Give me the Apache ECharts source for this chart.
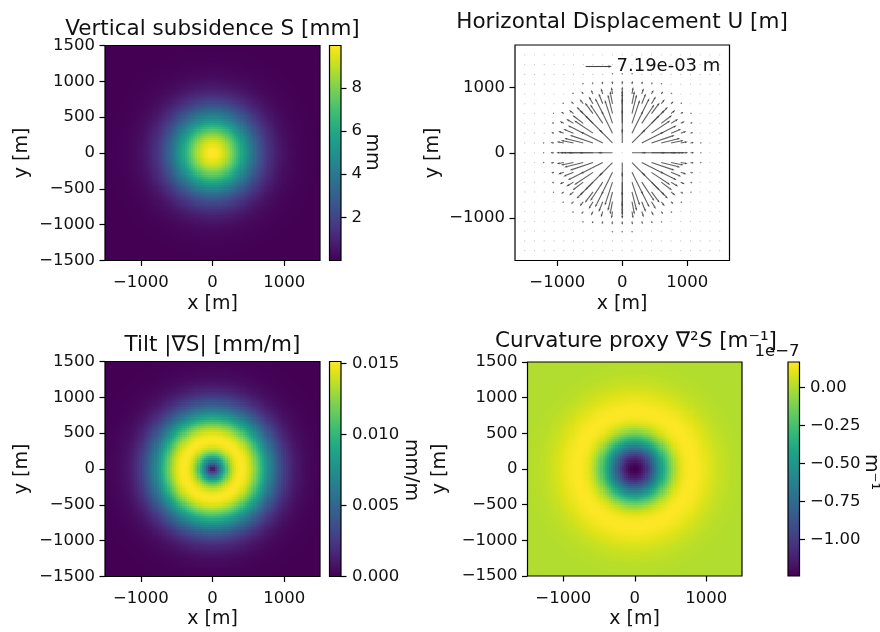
<!DOCTYPE html>
<html><head><meta charset="utf-8">
<script src="https://cdn.jsdelivr.net/npm/echarts@6/dist/echarts.min.js"></script>
<style>html,body{margin:0;padding:0;background:#fff}#c{width:880px;height:632px}</style>
</head><body><div id="c"></div>
<script>
// ---- radial profiles (r in metres) ----
const profileRadii = [0,50,100,150,200,250,300,350,400,450,500,550,600,650,700,750,800,850,900,950,1000,1050,1100,1150,1200,1250,1300,1350,1400,1450,1500,1600,1800,2000,2200];
const subsidenceMm = [10.00,9.922,9.692,9.321,8.825,8.226,7.548,6.819,6.065,5.311,4.578,3.886,3.247,2.671,2.163,1.724,1.353,1.046,0.796,0.596,0.439,0.319,0.228,0.160,0.111,0.076,0.051,0.034,0.022,0.014,0.009,0.003,0.0004,0,0];
const tiltMmPerM = [0,0.00310,0.00606,0.00874,0.01103,0.01285,0.01415,0.01492,0.01516,0.01494,0.01431,0.01336,0.01218,0.01085,0.00946,0.00808,0.00677,0.00556,0.00448,0.00354,0.00274,0.00209,0.00157,0.00115,0.00083,0.00059,0.00041,0.00029,0.00019,0.00013,0.00008,0.00003,0.000005,0,0];
const curvature1e7 = [-1.250,-1.231,-1.174,-1.083,-0.965,-0.827,-0.678,-0.526,-0.379,-0.244,-0.125,-0.027,0.051,0.107,0.144,0.163,0.169,0.164,0.152,0.136,0.117,0.097,0.079,0.063,0.049,0.037,0.027,0.020,0.014,0.010,0.007,0.003,0.0005,0.00005,0];
const displacementMm = [0,1.470,2.873,4.144,5.231,6.095,6.711,7.073,7.190,7.083,6.784,6.334,5.774,5.145,4.487,3.832,3.208,2.635,2.123,1.678,1.301,0.993,0.743,0.545,0.395,0.282,0.197,0.136,0.091,0.060,0.040,0.014,0.002,0,0];

// ---- grids / ticks ----
const imageExtent = [-1500, 1500];
const imageCells = 100;
const quiverStep = 150;
const quiverExtent = [-1650, 1650];
const xTicks = [-1000, 0, 1000];
const yTicksImage = [-1500, -1000, -500, 0, 500, 1000, 1500];
const yTicksQuiver = [-1000, 0, 1000];
const sTicks = [2, 4, 6, 8];
const tiltTicks = [0, 0.005, 0.010, 0.015];
const curvTicks = [-1.00, -0.75, -0.50, -0.25, 0.00];
const quiverKeyMm = 7.19;        // 7.19e-03 m
const quiverKeyAxisLen = 390;    // axis metres drawn for the key value

const viridis = ['#440154','#471365','#482475','#463480','#414487','#3b528b','#355f8d','#2f6c8e','#2a788e','#25848e','#21918c','#1e9c89','#22a884','#2fb47c','#44bf70','#5ec962','#7ad151','#9bd93c','#bddf26','#dfe318','#fde725'];
const FONT = "'DejaVu Sans', sans-serif";

function radial(profile, r) {
  for (let i = 1; i < profileRadii.length; i++) {
    if (r <= profileRadii[i]) {
      const t = (r - profileRadii[i-1]) / (profileRadii[i] - profileRadii[i-1]);
      return profile[i-1] + t * (profile[i] - profile[i-1]);
    }
  }
  return profile[profile.length - 1];
}
const cellSize = (imageExtent[1] - imageExtent[0]) / imageCells;
const cellCenters = [];
for (let i = 0; i < imageCells; i++) cellCenters.push(imageExtent[0] + cellSize * (i + 0.5));
function field(profile) {
  const out = [];
  for (const y of cellCenters) for (const x of cellCenters) out.push([x, y, radial(profile, Math.hypot(x, y))]);
  return out;
}
function range(d) { let lo = Infinity, hi = -Infinity; d.forEach(p => { lo = Math.min(lo, p[2]); hi = Math.max(hi, p[2]); }); return [lo, hi]; }
const sField = field(subsidenceMm), tField = field(tiltMmPerM), cField = field(curvature1e7);
const sR = range(sField), tR = range(tField), cR = range(cField);

const quiverData = [];
for (let y = imageExtent[0]; y <= imageExtent[1]; y += quiverStep)
  for (let x = imageExtent[0]; x <= imageExtent[1]; x += quiverStep) {
    const r = Math.hypot(x, y), u = radial(displacementMm, r);
    quiverData.push([x, y, r ? u * x / r : 0, r ? u * y / r : 0]);
  }

const minusFmt = (v, d) => { const s = Math.abs(v).toFixed(d); return (v < 0 && Number(s) !== 0 ? '\u2212' : '') + s; };

function axis(gridIndex, min, max, ticks, dec, pos, margin) {
  return { gridIndex, type: 'value', min, max, position: pos,
    axisLine: { show: false, onZero: false }, splitLine: { show: false },
    axisTick: { show: true, inside: false, length: 5.5, lineStyle: { color: '#000', width: 1.2 }, customValues: ticks },
    axisLabel: { show: true, customValues: ticks, formatter: v => minusFmt(v, dec), fontSize: 16.5, fontFamily: FONT, color: '#111', margin: margin } };
}
const hidden = (gridIndex) => ({ gridIndex, type: 'value', min: 0, max: 1, show: false, axisLine: { onZero: false } });
const gridBase = { show: true, borderColor: '#000', borderWidth: 1.2, backgroundColor: 'rgba(0,0,0,0)', z: 10, containLabel: false, outerBoundsMode: 'none' };
const G = (l, t, w, h) => Object.assign({ left: l, top: t, width: w, height: h }, gridBase);

function cellRender(params, api) {
  const x = api.value(0), y = api.value(1);
  const p0 = api.coord([x - cellSize / 2, y + cellSize / 2]);
  const p1 = api.coord([x + cellSize / 2, y - cellSize / 2]);
  const x0 = Math.round(p0[0]), y0 = Math.round(p0[1]), x1 = Math.round(p1[0]), y1 = Math.round(p1[1]);
  return { type: 'rect', silent: true, shape: { x: x0, y: y0, width: x1 - x0, height: y1 - y0 }, style: { fill: api.visual('color'), stroke: null } };
}
const gradient = { type: 'linear', x: 0, y: 1, x2: 0, y2: 0, colorStops: viridis.map((c, i) => ({ offset: i / (viridis.length - 1), color: c })) };
function barRender(params, api) {
  const p0 = api.coord([0, api.value(2)]), p1 = api.coord([1, api.value(1)]);
  return { type: 'rect', silent: true, shape: { x: p0[0], y: p0[1], width: p1[0] - p0[0], height: p1[1] - p0[1] }, style: { fill: gradient } };
}
function arrowRender(params, api) {
  const x = api.value(0), y = api.value(1), ux = api.value(2), uy = api.value(3);
  const k = quiverKeyAxisLen / quiverKeyMm;
  const t = api.coord([x, y]), h = api.coord([x + ux * k, y + uy * k]);
  const dx = h[0] - t[0], dy = h[1] - t[1], len = Math.hypot(dx, dy);
  if (len < 1.2) return { type: 'circle', silent: true, shape: { cx: t[0], cy: t[1], r: 0.6 }, style: { fill: 'rgba(0,0,0,0.25)' } };
  const ex = dx / len, ey = dy / len, hl = Math.min(3, len * 0.6), hw = 1.0;
  const bx = h[0] - ex * hl, by = h[1] - ey * hl;
  return { type: 'group', silent: true, children: [
    { type: 'line', shape: { x1: t[0], y1: t[1], x2: bx, y2: by }, style: { stroke: '#444', lineWidth: 1.1, opacity: 0.85 } },
    { type: 'polygon', shape: { points: [[h[0], h[1]], [bx - ey * hw, by + ex * hw], [bx + ey * hw, by - ex * hw]] }, style: { fill: '#444' } }
  ] };
}
const heat = (i, data) => ({ type: 'custom', coordinateSystem: 'cartesian2d', xAxisIndex: i, yAxisIndex: i, data, renderItem: cellRender, clip: true, silent: true, progressive: 0, animation: false, encode: { x: 0, y: 1 } });
const bar = (i, r) => ({ type: 'custom', coordinateSystem: 'cartesian2d', xAxisIndex: i, yAxisIndex: i, data: [[0, r[0], r[1]]], renderItem: barRender, silent: true, animation: false });

function txt(text, x, y, size, rot, extra) {
  return { type: 'text', x, y, rotation: rot || 0, silent: true, z: 100,
    style: Object.assign({ text, fontSize: size, fontFamily: FONT, fill: '#111', align: 'center', verticalAlign: 'middle', textAlign: 'center', textVerticalAlign: 'middle' }, extra || {}) };
}
const CW = -Math.PI / 2, CCW = Math.PI / 2;
const XM = 14;

const chart = echarts.init(document.getElementById('c'), null, { renderer: 'canvas' });
chart.setOption({
  animation: false,
  backgroundColor: '#fff',
  grid: [
    G(105, 45.5, 215, 215), G(329.5, 45.5, 11.5, 215),
    G(515, 45, 214.5, 215.5),
    G(105, 361.5, 215, 215), G(329.5, 361.5, 11.5, 215),
    G(527.5, 362, 214.5, 214), G(788, 362, 11.5, 214)
  ],
  xAxis: [
    axis(0, imageExtent[0], imageExtent[1], xTicks, 0, 'bottom', XM), hidden(1),
    axis(2, quiverExtent[0], quiverExtent[1], xTicks, 0, 'bottom', XM),
    axis(3, imageExtent[0], imageExtent[1], xTicks, 0, 'bottom', XM), hidden(4),
    axis(5, imageExtent[0], imageExtent[1], xTicks, 0, 'bottom', XM), hidden(6)
  ],
  yAxis: [
    axis(0, imageExtent[0], imageExtent[1], yTicksImage, 0, 'left', 10),
    axis(1, sR[0], sR[1], sTicks, 0, 'right', 10.5),
    axis(2, quiverExtent[0], quiverExtent[1], yTicksQuiver, 0, 'left', 10),
    axis(3, imageExtent[0], imageExtent[1], yTicksImage, 0, 'left', 10),
    axis(4, tR[0], tR[1], tiltTicks, 3, 'right', 11),
    axis(5, imageExtent[0], imageExtent[1], yTicksImage, 0, 'left', 10),
    axis(6, cR[0], cR[1], curvTicks, 2, 'right', 10.5)
  ],
  visualMap: [
    { type: 'continuous', show: false, seriesIndex: 0, dimension: 2, min: sR[0], max: sR[1], inRange: { color: viridis } },
    { type: 'continuous', show: false, seriesIndex: 3, dimension: 2, min: tR[0], max: tR[1], inRange: { color: viridis } },
    { type: 'continuous', show: false, seriesIndex: 5, dimension: 2, min: cR[0], max: cR[1], inRange: { color: viridis } }
  ],
  series: [
    heat(0, sField), bar(1, sR),
    { type: 'custom', coordinateSystem: 'cartesian2d', xAxisIndex: 2, yAxisIndex: 2, data: quiverData, renderItem: arrowRender, clip: true, silent: true, animation: false },
    heat(3, tField), bar(4, tR),
    heat(5, cField), bar(6, cR)
  ],
  graphic: [
    txt('Vertical subsidence S [mm]', 212.5, 29, 21.5),
    txt('Horizontal Displacement U [m]', 622, 22.8, 21.5),
    txt('Tilt |\u2207S| [mm/m]', 212.5, 345, 21.5),
    txt('Curvature proxy \u2207\u00b2{i|S} [m\u207b\u00b9]', 636, 341, 21.5, 0, { rich: { i: { fontStyle: 'italic', fontSize: 21.5, fontFamily: FONT, fill: '#111' } } }),
    txt('x [m]', 212.5, 304, 19), txt('x [m]', 622, 304, 19),
    txt('x [m]', 212.5, 619, 19), txt('x [m]', 634.5, 619, 19),
    txt('y [m]', 22, 153, 19, CCW), txt('y [m]', 433, 153, 19, CCW),
    txt('y [m]', 22, 469, 19, CCW), txt('y [m]', 440, 469, 19, CCW),
    txt('mm', 372, 152, 19, CW), txt('mm/m', 411, 470, 19, CW), txt('m\u207b\u00b9', 871, 472, 19, CW),
    txt('1e\u22127', 777, 352, 16.5),
    { type: 'line', silent: true, z: 100, shape: { x1: 585.7, y1: 66.5, x2: 609, y2: 66.5 }, style: { stroke: '#444', lineWidth: 1.1 } },
    { type: 'polygon', silent: true, z: 100, shape: { points: [[612, 66.5], [608.5, 65.3], [608.5, 67.7]] }, style: { fill: '#444' } },
    txt('7.19e-03 m', 616.5, 66.5, 18, 0, { align: 'left', textAlign: 'left' })
  ]
});
</script></body></html>
